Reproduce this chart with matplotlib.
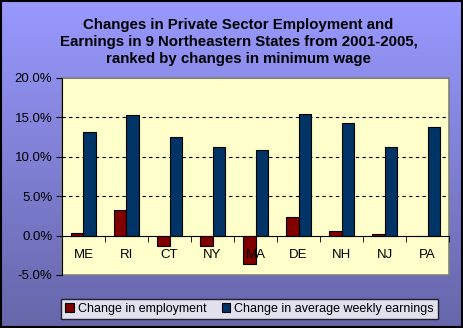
import numpy as np
import matplotlib
matplotlib.use('Agg')
import matplotlib.pyplot as plt
import matplotlib.patches as patches
from matplotlib.ticker import FuncFormatter, MultipleLocator

states = ['ME', 'RI', 'CT', 'NY', 'MA', 'DE', 'NH', 'NJ', 'PA']
employment = [0.3, 3.2, -1.3, -1.3, -3.6, 2.3, 0.55, 0.15, 0.0]
earnings = [13.1, 15.3, 12.5, 11.2, 10.8, 15.4, 14.25, 11.2, 13.75]
series_names = ['Change in employment', 'Change in average weekly earnings']

plt.rcParams['font.family'] = ['Liberation Sans', 'DejaVu Sans']

fig = plt.figure(figsize=(4.63, 3.28), dpi=100)

# gradient background over the whole figure
bg = fig.add_axes([0, 0, 1, 1], zorder=-10)
grad = np.linspace(0, 1, 256).reshape(-1, 1)
cmap = matplotlib.colors.LinearSegmentedColormap.from_list('bg', ['#9999ff', '#6666aa'])
bg.imshow(grad, aspect='auto', cmap=cmap, extent=[0, 1, 0, 1])
bg.set_axis_off()
fig.add_artist(patches.Rectangle((0.002, 0.003), 0.995, 0.994, transform=fig.transFigure,
                                 fill=False, edgecolor='black', linewidth=1.5))

ax = fig.add_axes([0.1339, 0.1616, 0.8359, 0.6006])
ax.set_facecolor('#ffffcc')

x = np.arange(len(states))
w = 0.3
b1 = ax.bar(x - w / 2, employment, w, color='#800000', edgecolor='black', linewidth=0.8,
            label=series_names[0], zorder=2)
b2 = ax.bar(x + w / 2, earnings, w, color='#003366', edgecolor='black', linewidth=0.8,
            label=series_names[1], zorder=2)

ax.set_xlim(-0.5, len(states) - 0.5)
ax.set_ylim(-5, 20)
ax.yaxis.set_major_locator(MultipleLocator(5))
ax.yaxis.set_major_formatter(FuncFormatter(lambda v, p: '%.1f%%' % v))
# dashed gridlines behind the bars, axis labels drawn on top of them
for yv in ax.get_yticks():
    if -5 < yv < 20 and yv != 0:
        ax.axhline(yv, linestyle=(0, (3, 3)), color='black', linewidth=0.8, zorder=1)
ax.set_axisbelow(False)

# category axis sits on the zero line
ax.spines['bottom'].set_position(('data', 0))
ax.spines['bottom'].set_color('black')
ax.spines['left'].set_color('black')
for s in ['top', 'right']:
    ax.spines[s].set_color('#808080')
ax.add_patch(patches.Rectangle((0, 0), 1, 1, transform=ax.transAxes, fill=False,
                               edgecolor='#808080', linewidth=1.2, clip_on=False, zorder=0))

ax.set_xticks(x)
ax.set_xticklabels(states)
ax.set_xticks(np.arange(len(states) + 1) - 0.5, minor=True)
ax.tick_params(axis='x', which='major', length=0, pad=10, labelsize=9.5)
ax.tick_params(axis='x', which='minor', length=4, direction='out', color='black')
ax.tick_params(axis='y', length=4, direction='out', labelsize=9.5, pad=3)

fig.text(0.515, 0.872, 'Changes in Private Sector Employment and\n'
         'Earnings in 9 Northeastern States from 2001-2005,\n'
         'ranked by changes in minimum wage',
         ha='center', va='center', fontsize=10.8, fontweight='bold', linespacing=1.3)

leg = fig.legend(handles=[b1, b2], loc='center', bbox_to_anchor=(0.539, 0.058), ncol=2,
                 fontsize=9, frameon=True, fancybox=False, edgecolor='black',
                 handlelength=0.7, handleheight=0.7, handletextpad=0.3, columnspacing=1.2,
                 borderpad=0.35, borderaxespad=0)
leg.get_frame().set_linewidth(1.0)

fig.savefig('out.png', dpi=100)
